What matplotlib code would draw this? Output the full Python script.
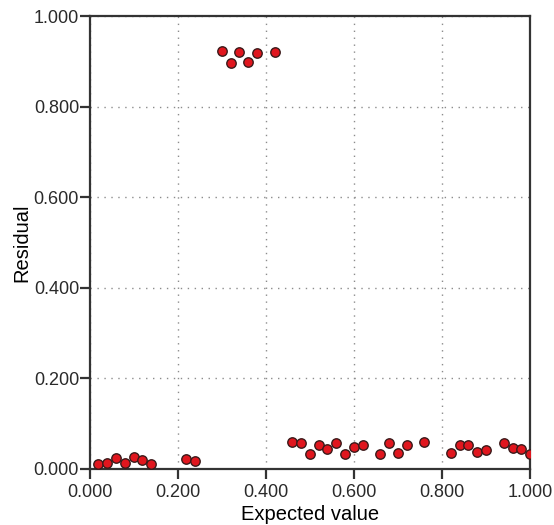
import matplotlib
matplotlib.use("Agg")
import matplotlib.pyplot as plt

plt.rcParams["font.family"] = ["Liberation Sans", "DejaVu Sans"]

# expected value vs residual
expected = [
    0.02, 0.04, 0.06, 0.08, 0.10, 0.12, 0.14, 0.22, 0.24,
    0.30, 0.32, 0.34, 0.36, 0.38, 0.42,
    0.46, 0.48, 0.50, 0.52, 0.54, 0.56, 0.58, 0.60, 0.62,
    0.66, 0.68, 0.70, 0.72, 0.76,
    0.82, 0.84, 0.86, 0.88, 0.90, 0.94, 0.96, 0.98, 1.00,
]
residual = [
    0.011, 0.014, 0.024, 0.014, 0.026, 0.019, 0.012, 0.021, 0.018,
    0.923, 0.897, 0.920, 0.899, 0.918, 0.921,
    0.060, 0.057, 0.033, 0.054, 0.045, 0.057, 0.032, 0.048, 0.054,
    0.033, 0.057, 0.035, 0.052, 0.059,
    0.035, 0.053, 0.054, 0.038, 0.043, 0.058, 0.046, 0.044, 0.032,
]
ticks = [0.0, 0.2, 0.4, 0.6, 0.8, 1.0]

fig = plt.figure(figsize=(5.54, 5.25), dpi=100)
ax = fig.add_axes([0.1616, 0.1067, 0.7954, 0.8628])

ax.scatter(expected, residual, s=46, color="#e0161e", edgecolors="#3a1a1a",
           linewidths=1.0, zorder=3)

ax.set_xlim(0, 1)
ax.set_ylim(0, 1)
ax.set_xticks(ticks)
ax.set_yticks(ticks)
ax.set_xticklabels([f"{t:.3f}" for t in ticks])
ax.set_yticklabels([f"{t:.3f}" for t in ticks])

ax.grid(True, linestyle=(0, (1, 4)), color="#8c8c8c", linewidth=1.0)
for s in ax.spines.values():
    s.set_color("#333333")
    s.set_linewidth(1.6)
ax.tick_params(direction="out", length=7.5, width=1.6, color="#333333",
               labelsize=13, labelcolor="#2a2a2a")
ax.tick_params(axis="y", pad=0)
ax.tick_params(axis="x", pad=3)

ax.set_xlabel("Expected value", fontsize=14.5, labelpad=3)
ax.set_ylabel("Residual", fontsize=14.5, labelpad=2)

fig.savefig("out.png", dpi=100)
